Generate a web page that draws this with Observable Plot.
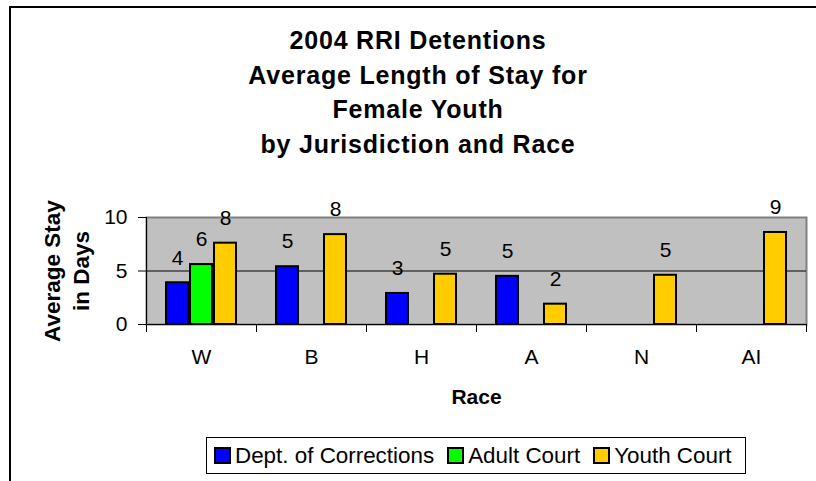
<!DOCTYPE html>
<html>
<head>
<meta charset="utf-8">
<script src="https://cdn.jsdelivr.net/npm/d3@7"></script>
<script src="https://cdn.jsdelivr.net/npm/@observablehq/plot@0.6"></script>
<style>
  html, body { margin: 0; padding: 0; background: #fff; }
  body { width: 816px; height: 481px; overflow: hidden; position: relative; font-family: "Liberation Sans", Arial, sans-serif; }
  #outer { position: absolute; left: 9px; top: 6px; width: 900px; height: 600px; border-left: 2px solid #000; border-top: 2px solid #000; }
  #title { position: absolute; left: 18px; top: 23px; width: 800px; text-align: center; font-weight: bold; font-size: 25px; line-height: 34.7px; letter-spacing: 0.8px; color: #000; }
  #chart { position: absolute; left: 0; top: 190px; }
  #legend { position: absolute; left: 206px; top: 437px; width: 538px; height: 35px; border: 1px solid #000; box-sizing: content-box; display: flex; align-items: center; font-size: 22.4px; color: #000; }
  .item { display: flex; align-items: center; margin-left: 7px; margin-right: 6px; }
  .sw { width: 13px; height: 13px; border: 2px solid #000; margin-right: 4px; }
</style>
</head>
<body>
<div id="outer"></div>
<div id="title">2004 RRI Detentions<br>Average Length of Stay for<br>Female Youth<br>by Jurisdiction and Race</div>
<div id="chart"></div>
<div id="legend"></div>
<script>
const races = ["W", "B", "H", "A", "N", "AI"];
const series = ["Dept. of Corrections", "Adult Court", "Youth Court"];
const colors = ["#0000ff", "#00ff00", "#ffcc00"];
const deptCorrections = [3.9, 5.4, 2.9, 4.5, null, null];
const adultCourt = [5.6, null, null, null, null, null];
const youthCourt = [7.6, 8.4, 4.7, 1.9, 4.6, 8.6];
const yTicks = [0, 5, 10];

const seriesValues = [deptCorrections, adultCourt, youthCourt];
const data = [];
races.forEach((race, i) => {
  series.forEach((s, j) => {
    const v = seriesValues[j][i];
    if (v != null) data.push({race, series: s, value: v});
  });
});

const chart = Plot.plot({
  width: 816,
  height: 291,
  marginLeft: 144,
  marginRight: 8,
  marginTop: 27,
  marginBottom: 157,
  style: {fontFamily: "'Liberation Sans', Arial, sans-serif", fontSize: "21px", color: "#000", background: "transparent"},
  fx: {domain: races, padding: 0, label: null},
  x: {domain: series, paddingInner: 0, paddingOuter: 0.75, axis: null},
  y: {domain: [0, 10], axis: null},
  color: {domain: series, range: colors},
  marks: [
    Plot.frame({facet: "super", fill: "#c0c0c0", stroke: "#808080", strokeWidth: 2}),
    Plot.ruleY([5], {stroke: "#000", strokeWidth: 1}),
    Plot.barY(data, {fx: "race", x: "series", y: "value", fill: "series", stroke: "#000", strokeWidth: 2, insetLeft: 1, insetRight: 1}),
    Plot.text(data, {fx: "race", x: "series", y: "value", text: d => String(Math.round(d.value)), dy: -25, fontSize: 21, lineAnchor: "middle", fill: "#000"}),
    Plot.ruleY([0], {stroke: "#000", strokeWidth: 1}),
    Plot.frame({facet: "super", anchor: "left", stroke: "#000", strokeWidth: 1}),
    Plot.frame({anchor: "left", insetTop: 107, insetBottom: -7, stroke: "#000", strokeWidth: 1}),
    Plot.frame({anchor: "right", insetTop: 107, insetBottom: -7, stroke: "#000", strokeWidth: 1}),
    Plot.axisY({ticks: yTicks, tickSize: 8, tickPadding: 11, fontSize: 21, label: null, stroke: "#000"}),
    Plot.axisFx({anchor: "bottom", tickSize: 0, tickPadding: 25, fontSize: 21, label: null}),
    Plot.text(["Average Stay\nin Days"], {facet: "super", frameAnchor: "left", textAnchor: "middle", rotate: -90, dx: -81, fontWeight: "bold", fontSize: 22.5, lineHeight: 1.25, fill: "#000"}),
    Plot.text(["Race"], {facet: "super", frameAnchor: "bottom", textAnchor: "middle", dy: 73, fontWeight: "bold", fontSize: 21, lineAnchor: "middle", fill: "#000"})
  ]
});
document.getElementById("chart").appendChild(chart);

const legend = document.getElementById("legend");
series.forEach((s, i) => {
  const item = document.createElement("div");
  item.className = "item";
  const sw = document.createElement("span");
  sw.className = "sw";
  sw.style.background = colors[i];
  const lab = document.createElement("span");
  lab.textContent = s;
  item.appendChild(sw);
  item.appendChild(lab);
  legend.appendChild(item);
});
</script>
</body>
</html>
